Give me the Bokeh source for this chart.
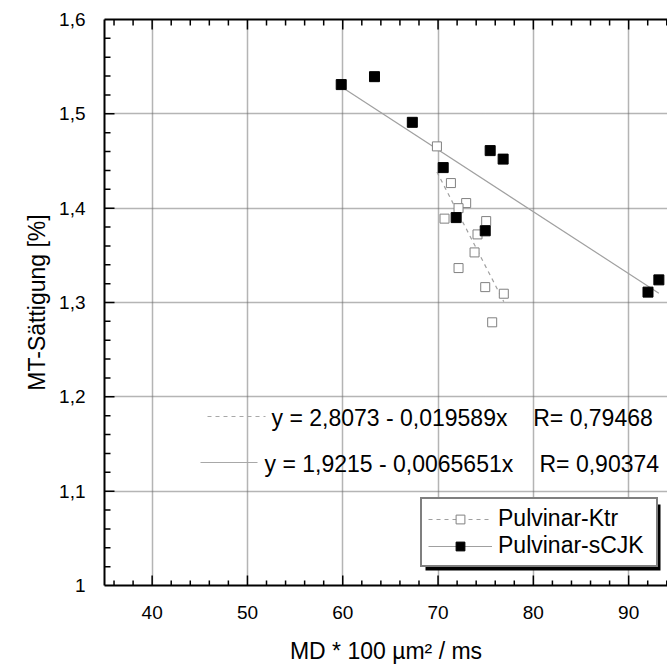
import numpy as np
from bokeh.plotting import figure
from bokeh.models import (LinearAxis, SingleIntervalTicker, CustomJSTickFormatter, Range1d,
                          Legend, LegendItem, Label, BoxAnnotation)
from bokeh.embed import file_html
from bokeh.resources import INLINE

# ---------------- data ----------------
series_names = ["Pulvinar-Ktr", "Pulvinar-sCJK"]
ktr_x = [69.88, 71.35, 72.95, 72.15, 70.68, 75.05, 74.14, 73.83, 72.15, 74.95, 76.90, 75.68]
ktr_y = [1.4655, 1.4266, 1.4054, 1.4000, 1.3889, 1.3863, 1.3722, 1.3531, 1.3365, 1.3163, 1.3093, 1.2790]
cjk_x = [59.84, 63.33, 67.30, 70.54, 75.47, 76.83, 71.90, 74.95, 92.03, 93.17]
cjk_y = [1.5310, 1.5394, 1.4910, 1.4430, 1.4610, 1.4520, 1.3900, 1.3760, 1.3110, 1.3240]
ktr_fit = [2.8073, -0.019589]   # intercept, slope
ktr_r = 0.79468
cjk_fit = [1.9215, -0.0065651]
cjk_r = 0.90374
x_title = "MD * 100 µm² / ms"
y_title = "MT-Sättigung [%]"

# ---------------- layout ----------------
FONT = "Liberation Sans"
W, H = 667, 671
FL, FT, FH = 104, 19, 566
FW = W - FL
X0, X1 = 35.0, 35.0 + FW / 9.53
Y0, Y1 = 1.0, 1.6
DXP = (X1 - X0) / FW   # data units per pixel
DYP = (Y1 - Y0) / FH


def px2x(px):
    return X0 + (px - FL) * DXP


def py2y(py):
    return Y1 - (py - FT) * DYP


def de(v):
    return str(v).replace(".", ",")


p = figure(width=W, height=H, x_range=Range1d(X0, X1), y_range=Range1d(Y0, Y1),
           output_backend="svg", toolbar_location=None,
           min_border_left=FL, min_border_right=0, min_border_top=FT,
           min_border_bottom=H - FT - FH)
p.outline_line_color = None
p.background_fill_color = "white"
p.border_fill_color = "white"

xticker = SingleIntervalTicker(interval=10, num_minor_ticks=5)
yticker = SingleIntervalTicker(interval=0.1, num_minor_ticks=5)

for ax in (p.xaxis[0], p.yaxis[0]):
    ax.axis_line_width = 2
    ax.axis_line_color = "black"
    ax.major_tick_in = 0
    ax.major_tick_out = 0
    ax.minor_tick_in = 0
    ax.minor_tick_out = 0
    ax.major_label_text_font = FONT
    ax.major_label_text_font_size = "19px"
    ax.major_label_text_color = "black"
    ax.axis_label_text_font = FONT
    ax.axis_label_text_font_size = "23px"
    ax.axis_label_text_font_style = "normal"
    ax.axis_label_text_color = "black"

p.xaxis[0].ticker = xticker
p.xaxis[0].axis_label = x_title
p.xaxis[0].major_label_standoff = 20
p.xaxis[0].axis_label_standoff = 16

p.yaxis[0].ticker = yticker
p.yaxis[0].axis_label = y_title
p.yaxis[0].major_label_standoff = 19
p.yaxis[0].axis_label_standoff = 6
p.yaxis[0].formatter = CustomJSTickFormatter(
    code="return tick.toFixed(1).replace('.', ',').replace(/,0$/, '');")

top = LinearAxis(ticker=xticker, axis_line_width=2, axis_line_color="black",
                 major_tick_in=0, major_tick_out=0, minor_tick_in=0, minor_tick_out=0,
                 major_label_standoff=0, major_label_text_font_size="0px",
                 formatter=CustomJSTickFormatter(code="return '';"))
p.add_layout(top, "above")

for g, t in ((p.xgrid[0], xticker), (p.ygrid[0], yticker)):
    g.ticker = t
    g.grid_line_color = "#6a6a6a"
    g.grid_line_dash = "1 1"
    g.grid_line_width = 1.5

# ---------------- inward tick marks ----------------
xt = np.arange(36, X1 + 1e-9, 2.0)
xmaj = np.isclose(np.mod(xt, 10), 0)
xlen = np.where(xmaj, 10, 5)
p.segment(xt, Y0, xt, Y0 + xlen * DYP, line_color="black", line_width=1.5)
p.segment(xt, Y1, xt, Y1 - np.where(xmaj, 10, 6) * DYP, line_color="black", line_width=1.5)
yt = np.round(np.arange(1.02, 1.6 - 1e-9, 0.02), 2)
ymaj = np.isclose(np.mod(np.round(yt * 100), 10), 0)
ylen = np.where(ymaj, 10, 6)
p.segment(X0, yt, X0 + ylen * DXP, yt, line_color="black", line_width=1.5)

# ---------------- regression lines ----------------
kx = [min(ktr_x), max(ktr_x)]
ky = [ktr_fit[0] + ktr_fit[1] * v for v in kx]
cx = [min(cjk_x), max(cjk_x)]
cy = [cjk_fit[0] + cjk_fit[1] * v for v in cx]

k_line = p.line(kx, ky, line_color="#a0a0a0", line_width=1.2, line_dash="4 4")
c_line = p.line(cx, cy, line_color="#a0a0a0", line_width=1.2)

k_pts = p.scatter(ktr_x, ktr_y, marker="square", size=9, fill_color="white",
                  line_color="#808080", line_width=1)
c_pts = p.scatter(cjk_x, cjk_y, marker="square", size=10, fill_color="black",
                  line_color="black")

# ---------------- equation annotations ----------------
p.line([px2x(207), px2x(265)], [py2y(416)] * 2, line_color="#a8a8a8", line_width=1.2,
       line_dash="4 4")
p.line([px2x(200), px2x(257)], [py2y(462)] * 2, line_color="#a8a8a8", line_width=1.2)

eq1 = f"y = {de(ktr_fit[0])} - {de(-ktr_fit[1])}x"
eq2 = f"y = {de(cjk_fit[0])} - {de(-cjk_fit[1])}x"
for txt, xx, yy in ((eq1, 271, 417), (eq2, 264, 463),
                    (f"R= {de(ktr_r)}", 532.7, 417), (f"R= {de(cjk_r)}", 539, 463)):
    p.add_layout(Label(x=px2x(xx), y=py2y(yy), text=txt, text_font=FONT,
                       text_font_size="23px", text_baseline="middle", text_align="left",
                       text_color="black"))

# ---------------- legend ----------------
shadow = BoxAnnotation(left=px2x(425), right=px2x(660), top=py2y(504), bottom=py2y(570),
                       fill_color="black", fill_alpha=1.0, line_color=None, level="underlay")
p.add_layout(shadow)

legend = Legend(items=[LegendItem(label=series_names[0], renderers=[k_line, k_pts]),
                       LegendItem(label=series_names[1], renderers=[c_line, c_pts])],
                location=(316, 18), margin=0, padding=6, spacing=0,
                glyph_width=64, glyph_height=22, label_standoff=6,
                label_text_font=FONT, label_text_font_size="23px", label_height=22,
                label_width=152, label_text_color="black",
                border_line_color="black", border_line_width=2,
                background_fill_color="white", background_fill_alpha=1.0)
p.add_layout(legend, "center")

open("out.html", "w").write(file_html(p, INLINE))
